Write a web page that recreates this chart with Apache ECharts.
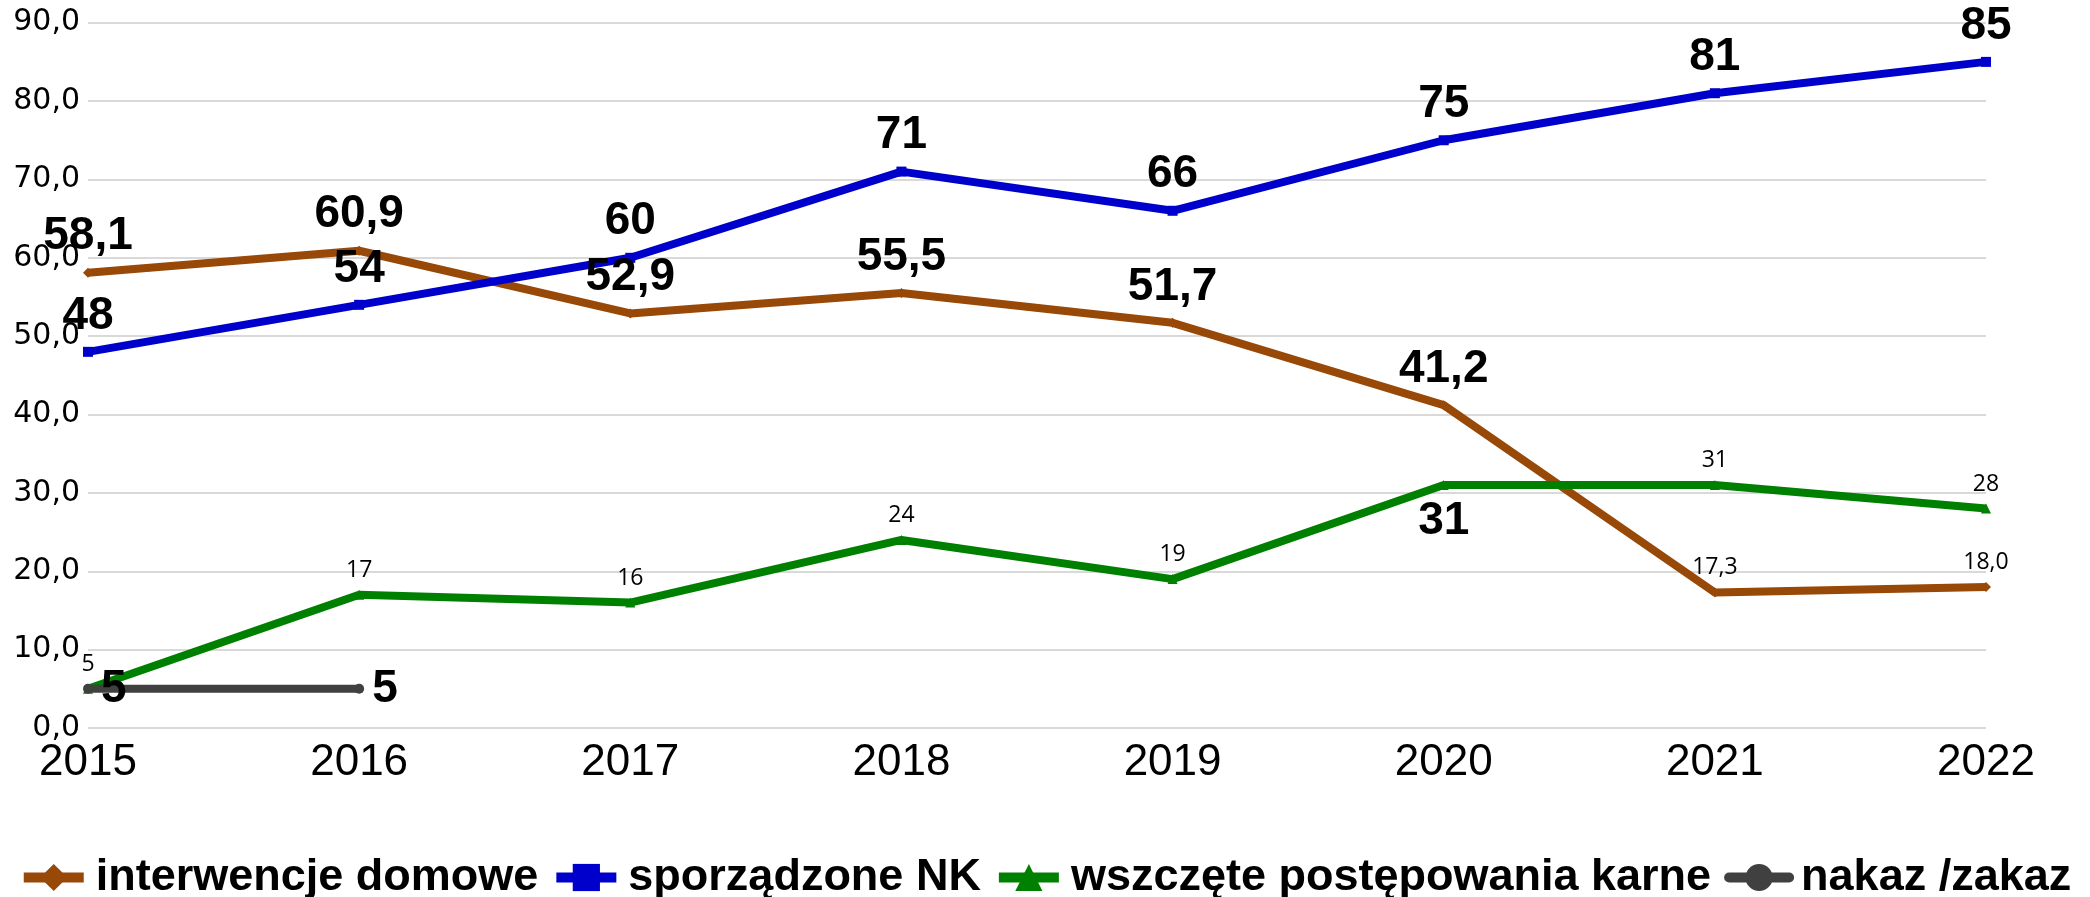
<!DOCTYPE html>
<html>
<head>
<meta charset="utf-8">
<script src="https://cdn.jsdelivr.net/npm/echarts@6/dist/echarts.min.js"></script>
<style>
html,body{margin:0;padding:0;background:#fff;}
#c{width:2090px;height:897px;}
</style>
</head>
<body>
<div id="c"></div>
<script>
const years = ['2015','2016','2017','2018','2019','2020','2021','2022'];
const interwencje = [58.1, 60.9, 52.9, 55.5, 51.7, 41.2, 17.3, 18.0];
const sporzadzone = [48, 54, 60, 71, 66, 75, 81, 85];
const wszczete = [5, 17, 16, 24, 19, 31, 31, 28];
const nakaz = [5, 5, null, null, null, null, null, null];
const seriesNames = ['interwencje domowe', 'sporządzone NK', 'wszczęte postępowania karne', 'nakaz /zakaz'];

const BIG = {fontFamily: 'Liberation Sans', fontWeight: 'bold', fontSize: 46, color: '#000'};
const SMALL = {fontFamily: 'Open Sans', fontWeight: 'normal', fontSize: 23, color: '#000'};
const comma1 = v => v.toFixed(1).replace('.', ',');

function build(values, fmt, labelFor) {
  return values.map((v, i) => {
    if (v == null) return null;
    const lab = labelFor(i);
    return {value: v, label: Object.assign({show: true, formatter: () => fmt(v)}, lab)};
  });
}

const chart = echarts.init(document.getElementById('c'), null, {renderer: 'canvas'});
const base = {type: 'line', symbolSize: 10, lineStyle: {width: 8}, z: 2};
chart.setOption({
  animation: false,
  backgroundColor: '#fff',
  grid: {left: 88, right: 104, top: 22.7, bottom: 169, outerBoundsMode: 'none'},
  legend: {
    top: 850, left: 'center',
    itemWidth: 60, itemHeight: 34, itemGap: 13,
    lineStyle: {width: 10},
    textStyle: {fontFamily: 'Liberation Sans', fontWeight: 'bold', fontSize: 45, color: '#000', padding: [0, 0, 0, 7]},
    data: seriesNames
  },
  xAxis: {
    type: 'category', data: years, boundaryGap: false,
    axisLine: {show: false}, axisTick: {show: false},
    axisLabel: {fontFamily: 'Liberation Sans', fontSize: 44, color: '#000', margin: 13}
  },
  yAxis: {
    type: 'value', min: 0, max: 90, interval: 10,
    axisLine: {show: false}, axisTick: {show: false},
    splitLine: {lineStyle: {color: '#d9d9d9', width: 2}},
    axisLabel: {fontFamily: 'DejaVu Sans', fontSize: 30, color: '#000', margin: 8, formatter: v => comma1(v)}
  },
  series: [
    Object.assign({}, base, {
      name: seriesNames[0], symbol: 'diamond', color: '#984807',
      data: build(interwencje, comma1, i => i >= 6 ? Object.assign({position: 'top', distance: 8}, SMALL) : Object.assign({position: 'top', distance: 8}, BIG))
    }),
    Object.assign({}, base, {
      name: seriesNames[1], symbol: 'rect', color: '#0000cc',
      data: build(sporzadzone, v => String(v), i => Object.assign({position: 'top', distance: 8}, BIG))
    }),
    Object.assign({}, base, {
      name: seriesNames[2], symbol: 'triangle', color: '#008000',
      data: build(wszczete, v => String(v), i => i === 5 ? Object.assign({position: 'bottom', distance: 8}, BIG) : Object.assign({position: 'top', distance: 8}, SMALL))
    }),
    Object.assign({}, base, {
      name: seriesNames[3], symbol: 'circle', color: '#404040', lineStyle: {width: 8, cap: 'round'},
      data: build(nakaz, v => String(v), i => Object.assign({position: 'right', distance: 8}, BIG))
    })
  ]
});
</script>
</body>
</html>
